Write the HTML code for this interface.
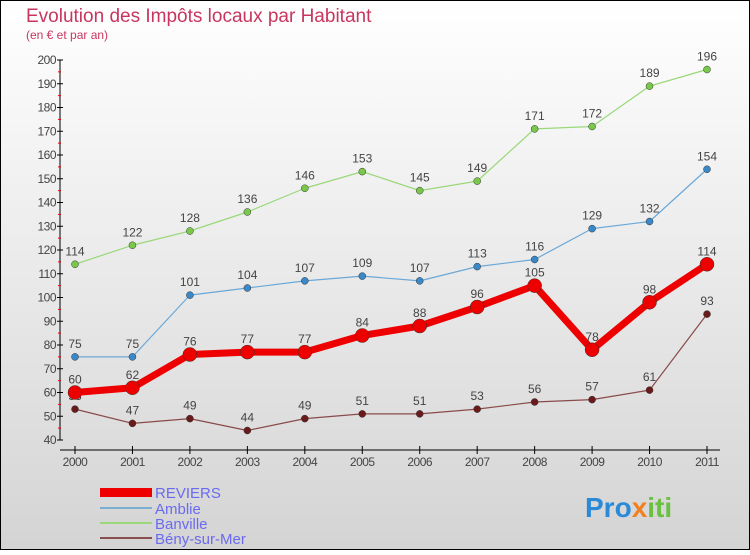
<!DOCTYPE html>
<html><head><meta charset="utf-8"><style>
html,body{margin:0;padding:0}
body{width:750px;height:550px;overflow:hidden;font-family:"Liberation Sans",sans-serif}
</style></head><body>
<svg width="750" height="550" xmlns="http://www.w3.org/2000/svg">
<defs><linearGradient id="bg" x1="0" y1="0" x2="0" y2="1"><stop offset="0" stop-color="#ffffff"/><stop offset="1" stop-color="#d4d4d4"/></linearGradient></defs>
<rect x="0.5" y="0.5" width="749" height="549" fill="url(#bg)" stroke="#000"/>
<text x="26" y="22" font-size="19" fill="#c8365f">Evolution des Impôts locaux par Habitant</text>
<text x="26" y="39" font-size="12" fill="#c8365f">(en € et par an)</text>
<g id="axes"></g>
<g id="series"></g>
<g>
<rect x="100" y="488" width="52" height="9" fill="#e00"/>
<text x="155" y="498" font-size="15" fill="#6a6af0">REVIERS</text>
<line x1="100" y1="508" x2="152" y2="508" stroke="#7aaed0" stroke-width="2"/>
<text x="155" y="514" font-size="15" fill="#6a6af0">Amblie</text>
<line x1="100" y1="523" x2="152" y2="523" stroke="#9ad87a" stroke-width="2"/>
<text x="155" y="529" font-size="15" fill="#6a6af0">Banville</text>
<line x1="100" y1="538" x2="152" y2="538" stroke="#8a5050" stroke-width="2"/>
<text x="155" y="544" font-size="15" fill="#6a6af0">Bény-sur-Mer</text>
</g>
<text x="585" y="517" font-size="28" font-weight="bold" fill="#f0a020"><tspan fill="#2a8ad8">Pro</tspan><tspan fill="#f08020">x</tspan><tspan fill="#6ac040">iti</tspan></text>
</svg>
<script>
const years=[2000,2001,2002,2003,2004,2005,2006,2007,2008,2009,2010,2011];
const reviers=[60,62,76,77,77,84,88,96,105,78,98,114];
const amblie=[75,75,101,104,107,109,107,113,116,129,132,154];
const banville=[114,122,128,136,146,153,145,149,171,172,189,196];
const beny=[53,47,49,44,49,51,51,53,56,57,61,93];
const yTicks=[40,50,60,70,80,90,100,110,120,130,140,150,160,170,180,190,200];
const NS="http://www.w3.org/2000/svg";
const xs=i=>75+i*(632/11);
const ys=v=>440-(v-40)*2.375;
function mk(tag,attrs,parent,text){const e=document.createElementNS(NS,tag);for(const k in attrs)e.setAttribute(k,attrs[k]);if(text!==undefined)e.textContent=text;parent.appendChild(e);return e;}
const ax=document.getElementById('axes');
let yl=mk('line',{x1:60,y1:60,x2:60,y2:440,stroke:'#000','stroke-width':1},ax);


let xl=mk('line',{x1:60,y1:450,x2:720,y2:450,stroke:'#000','stroke-width':1},ax);


yTicks.forEach((t,i)=>{
  mk('line',{x1:57,y1:ys(t),x2:63,y2:ys(t),stroke:'#000'},ax);
  if(i<yTicks.length-1)mk('line',{x1:58,y1:ys(t+5),x2:61,y2:ys(t+5),stroke:'#e00'},ax);
  const tx=mk('text',{x:56,y:ys(t)+4,'font-size':12,'text-anchor':'end',fill:'#444','letter-spacing':'-0.5'},ax,String(t));
  
  
});
years.forEach((y,i)=>{
  mk('line',{x1:xs(i),y1:446,x2:xs(i),y2:454,stroke:'#000'},ax);
  const tx=mk('text',{x:xs(i),y:466,'font-size':12,'text-anchor':'middle',fill:'#444','letter-spacing':'-0.5'},ax,String(y));
  
  
});
const sg=document.getElementById('series');
function series(name,vals,color,w,r,dot){
  const g=mk('g',{},sg);
  
  
  const p=mk('polyline',{points:vals.map((v,i)=>xs(i)+','+ys(v)).join(' '),fill:'none',stroke:color,'stroke-width':w,'stroke-linejoin':'round'},g);
  
  
  vals.forEach((v,i)=>{
    const c=mk('circle',{cx:xs(i),cy:ys(v),r:r,fill:dot,stroke:'#333','stroke-width':0.5},g);
    
    
    const t=mk('text',{x:xs(i),y:ys(v)-9,'font-size':12,'text-anchor':'middle',fill:'#444'},g,String(v));
    
    
  });
}
series('beny',beny,'#8a4a4a',1.2,3.5,'#6a1a1a');
series('banville',banville,'#9ad87a',1.2,3.5,'#7ac84a');
series('amblie',amblie,'#6aa8d8',1.2,3.5,'#3a88c8');
series('reviers',reviers,'#e00',7,7,'#e00');
</script>
</body></html>
